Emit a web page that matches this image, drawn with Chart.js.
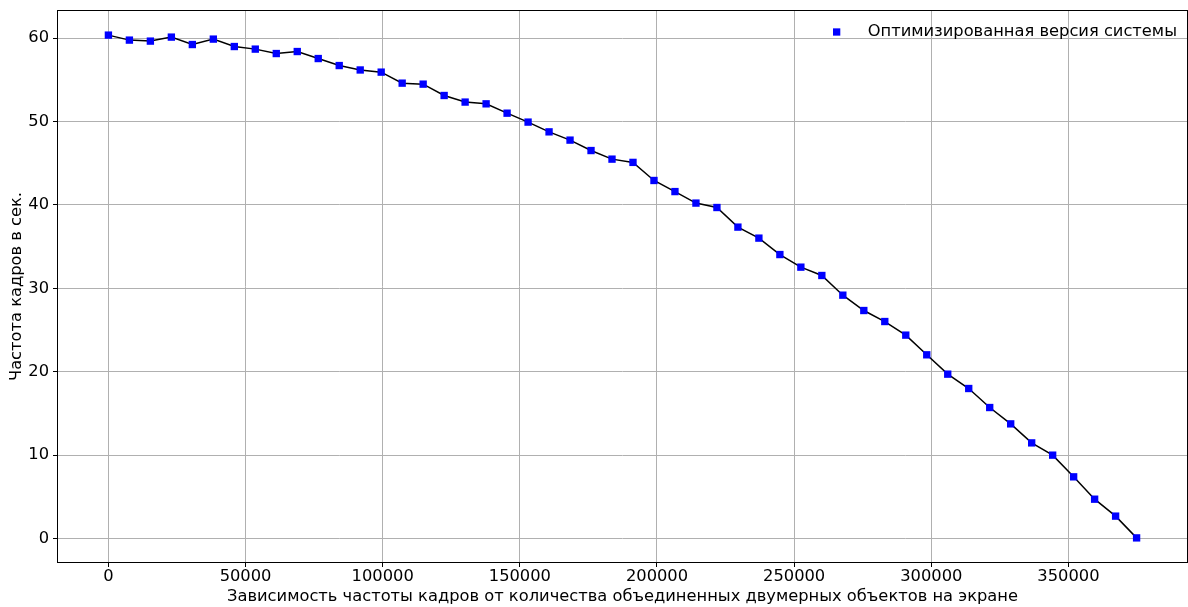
<!DOCTYPE html>
<html>
<head>
<meta charset="utf-8">
<script src="https://cdn.jsdelivr.net/npm/chart.js"></script>
<style>
  html, body { margin: 0; padding: 0; background: #fff; }
  canvas { display: block; }
</style>
</head>
<body>
<canvas id="chart" width="1188" height="607"></canvas>
<script>
const seriesLabel = 'Оптимизированная версия системы';
const xTitle = 'Зависимость частоты кадров от количества объединенных двумерных объектов на экране';
const yTitle = 'Частота кадров в сек.';

const objectCounts = [
    0, 7650, 15300, 22950, 30600, 38250, 45900, 53550, 61200, 68850,
    76500, 84150, 91800, 99450, 107100, 114750, 122400, 130050, 137700, 145350,
    153000, 160650, 168300, 175950, 183600, 191250, 198900, 206550, 214200, 221850,
    229500, 237150, 244800, 252450, 260100, 267750, 275400, 283050, 290700, 298350,
    306000, 313650, 321300, 328950, 336600, 344250, 351900, 359550, 367200, 374850
];
const fps = [
    60.36, 59.76, 59.64, 60.12, 59.23, 59.88, 58.99, 58.68, 58.15, 58.39,
    57.55, 56.71, 56.18, 55.92, 54.6, 54.48, 53.12, 52.33, 52.12, 51.0,
    49.93, 48.76, 47.77, 46.52, 45.49, 45.1, 42.93, 41.6, 40.22, 39.69,
    37.34, 36.02, 34.05, 32.54, 31.54, 29.18, 27.34, 26.02, 24.39, 22.03,
    19.71, 17.99, 15.71, 13.75, 11.47, 10.0, 7.4, 4.72, 2.69, 0.08
];
const xTicks = [0, 50000, 100000, 150000, 200000, 250000, 300000, 350000];
const yTicks = [0, 10, 20, 30, 40, 50, 60];

const font = { family: 'DejaVu Sans', size: 16.3 };

// box around the plot area, like matplotlib spines
const frame = {
    id: 'frame',
    afterDraw(chart) {
        const { ctx, chartArea: a } = chart;
        ctx.save();
        ctx.strokeStyle = '#000';
        ctx.lineWidth = 1;
        ctx.strokeRect(a.left + 0.5, a.top + 0.5, a.right - a.left - 1, a.bottom - a.top - 1);
        ctx.restore();
    }
};

// legend inside the plot, top right, no background
const innerLegend = {
    id: 'innerLegend',
    afterDraw(chart) {
        const { ctx, chartArea: a } = chart;
        const y = a.top + 22;
        ctx.save();
        ctx.fillStyle = '#0000ff';
        ctx.fillRect(a.right - 355, y - 3.65, 7.3, 7.3);
        ctx.fillStyle = '#000';
        ctx.font = font.size + 'px "' + font.family + '"';
        ctx.textBaseline = 'middle';
        ctx.textAlign = 'left';
        ctx.fillText(chart.data.datasets[0].label, a.right - 320.3, y);
        ctx.restore();
    }
};

new Chart(document.getElementById('chart'), {
    type: 'line',
    data: {
        datasets: [{
            label: seriesLabel,
            data: objectCounts.map((x, i) => ({ x: x, y: fps[i] })),
            borderColor: '#000',
            borderWidth: 1.5,
            tension: 0,
            pointStyle: 'rect',
            pointRadius: 5.2,
            pointBackgroundColor: '#0000ff',
            pointBorderWidth: 0,
            pointHoverRadius: 5.2
        }]
    },
    options: {
        responsive: false,
        animation: false,
        layout: { autoPadding: false, padding: { top: 10, right: 0, left: 0, bottom: 0 } },
        scales: {
            x: {
                type: 'linear',
                min: -18742,
                max: 393592,
                afterBuildTicks: (s) => { s.ticks = xTicks.map(v => ({ value: v })); },
                afterFit: (s) => { s.height = 44; s.paddingLeft = 0; s.paddingRight = 0; },
                grid: { color: '#b0b0b0', lineWidth: 1, tickColor: '#000', tickLength: 4 },
                border: { display: false },
                ticks: { color: '#000', font: font, padding: 0, maxRotation: 0, callback: v => String(v) },
                title: { display: true, text: xTitle, color: '#000', font: font, padding: { top: 0, bottom: 0 } }
            },
            y: {
                type: 'linear',
                min: -2.93,
                max: 63.37,
                afterBuildTicks: (s) => { s.ticks = yTicks.map(v => ({ value: v })); },
                afterFit: (s) => { s.width = 57; s.paddingTop = 0; s.paddingBottom = 0; },
                grid: { color: '#b0b0b0', lineWidth: 1, tickColor: '#000', tickLength: 4 },
                border: { display: false },
                ticks: { color: '#000', font: font, padding: 4, callback: v => String(v) },
                title: { display: true, text: yTitle, color: '#000', font: font, padding: { top: 7, bottom: 0 } }
            }
        },
        plugins: {
            legend: { display: false },
            tooltip: { enabled: false }
        }
    },
    plugins: [frame, innerLegend]
});
</script>
</body>
</html>
